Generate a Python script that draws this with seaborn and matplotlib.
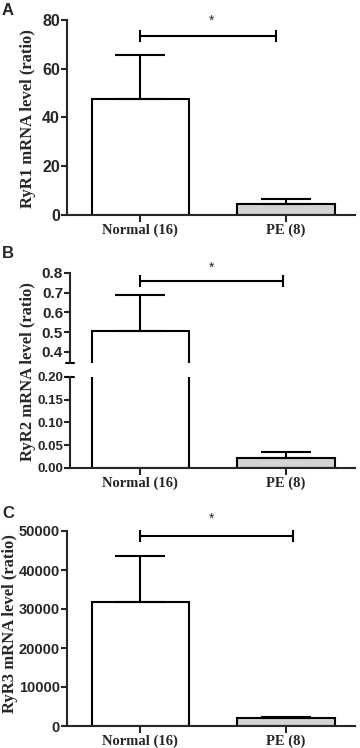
import numpy as np
import pandas as pd
import matplotlib
matplotlib.use("Agg")
import matplotlib.pyplot as plt
import seaborn as sns

# values (mean, SEM)
groups = ["Normal (16)", "PE (8)"]
bar_colors = ["white", "#d4d4d4"]

ryr1_mean = [47.5, 4.5]
ryr1_sem = [18.2, 2.0]
ryr2_mean = [0.505, 0.022]
ryr2_sem = [0.185, 0.013]
ryr3_mean = [31800, 2000]
ryr3_sem = [11700, 400]

ryr1_ticks = [0, 20, 40, 60, 80]
ryr2_top_ticks = [0.4, 0.5, 0.6, 0.7, 0.8]
ryr2_bot_ticks = [0.00, 0.05, 0.10, 0.15, 0.20]
ryr3_ticks = [0, 10000, 20000, 30000, 40000, 50000]

sig_y = [73.5, 0.76, 48700]

sns.set_style("ticks")
SANS = "Liberation Sans"
SERIF = "Liberation Serif"
LW = 1.5

W, H = 360, 748
fig = plt.figure(figsize=(W / 100, H / 100), dpi=100)


def box(x0, x1, ytop, ybot):
    return [x0 / W, 1 - ybot / H, (x1 - x0) / W, (ybot - ytop) / H]


def draw_bars(ax, mean, sem):
    df = pd.DataFrame({"group": groups, "value": mean})
    sns.barplot(data=df, x="group", y="value", hue="group", palette=bar_colors,
                edgecolor="black", linewidth=LW, width=0.667, legend=False,
                ax=ax, zorder=2)
    ax.errorbar([0, 1], mean, yerr=[[0, 0], sem], fmt="none", ecolor="black",
                elinewidth=LW, capsize=18, capthick=LW, zorder=3)


def style(ax, ticks, fmt, size):
    ax.set_yticks(ticks)
    ax.set_yticklabels([fmt.format(t) for t in ticks], fontfamily=SANS,
                       fontweight="bold", fontsize=size)
    ax.tick_params(axis="y", length=4, width=LW, pad=1)
    ax.tick_params(axis="x", length=5, width=LW, pad=1)
    for s in ["left", "bottom"]:
        ax.spines[s].set_linewidth(LW)
    sns.despine(ax=ax)
    ax.set_xlabel("")
    ax.set_ylabel("")


def xlabels(ax):
    ax.set_xticks([0, 1])
    ax.set_xticklabels(groups, fontfamily=SERIF, fontweight="bold", fontsize=10.5)


def sig(ax, y, x1, fig_ast_y):
    ax.plot([0, x1], [y, y], color="black", lw=LW, clip_on=False)
    ax.plot([0, x1], [y, y], color="black", lw=0, marker="|", ms=8, mew=LW,
            clip_on=False)
    fig.text(212 / W, 1 - fig_ast_y / H, "*", ha="center", va="center",
             fontfamily=SANS, fontsize=10)


def ylab(text, xc, yc):
    fig.text(xc / W, 1 - yc / H, text, rotation=90, ha="center", va="center",
             fontfamily=SERIF, fontweight="bold", fontsize=12)


def letter(text, ytop):
    fig.text(2 / W, 1 - ytop / H, text, ha="left", va="top",
             fontfamily=SANS, fontweight="bold", fontsize=12)


# panel A
ax = fig.add_axes(box(67, 355, 20, 215))
draw_bars(ax, ryr1_mean, ryr1_sem)
ax.set_ylim(0, 80)
ax.set_xlim(-0.504, 1.474)
style(ax, ryr1_ticks, "{:g}", 11.5)
xlabels(ax)
sig(ax, sig_y[0], 0.93, 21)
ylab("RyR1 mRNA level (ratio)", 28, 119)
letter("A", 3)

# panel B (broken axis)
axt = fig.add_axes(box(70, 355, 273, 363))
axb = fig.add_axes(box(70, 355, 377, 468))
for a in (axt, axb):
    draw_bars(a, ryr2_mean, ryr2_sem)
    a.set_xlim(-0.483, 1.474)
axt.set_ylim(0.344, 0.8)
axb.set_ylim(0, 0.2)
style(axt, ryr2_top_ticks, "{:.1f}", 11)
style(axb, ryr2_bot_ticks, "{:.2f}", 9.5)
axt.spines["bottom"].set_visible(False)
axt.set_xticks([])
xlabels(axb)
d = 4 / 285
axt.plot([-d, d], [0, 0], color="black", lw=LW, transform=axt.transAxes, clip_on=False)
axb.plot([-d, d], [1, 1], color="black", lw=LW, transform=axb.transAxes, clip_on=False)
sig(axt, sig_y[1], 0.98, 268)
ylab("RyR2 mRNA level (ratio)", 28, 372)
letter("B", 246)

# panel C
ax = fig.add_axes(box(67, 355, 531, 726))
draw_bars(ax, ryr3_mean, ryr3_sem)
ax.set_ylim(0, 50000)
ax.set_xlim(-0.504, 1.474)
style(ax, ryr3_ticks, "{:d}", 10.5)
xlabels(ax)
sig(ax, sig_y[2], 1.05, 519)
ylab("RyR3 mRNA level (ratio)", 10, 624)
letter("C", 506)

fig.savefig("out.png", dpi=100)
